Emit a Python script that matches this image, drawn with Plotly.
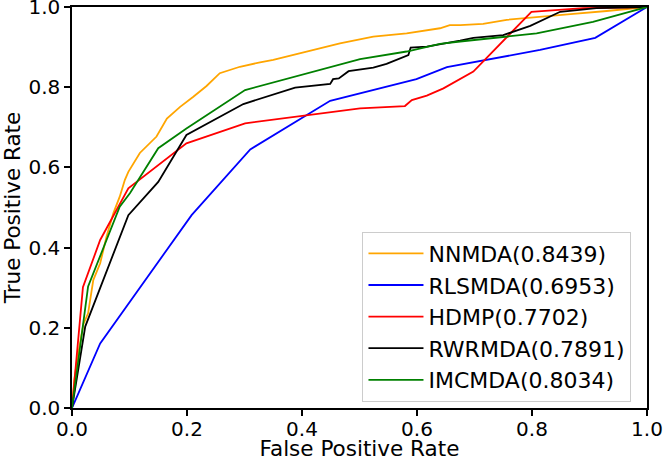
import plotly.graph_objects as go

# ---- data ----
nnmda_fpr = [0, 0.004, 0.01, 0.02, 0.028, 0.037, 0.049, 0.06, 0.072, 0.083, 0.092, 0.098, 0.118,
             0.147, 0.165, 0.188, 0.211, 0.234, 0.257, 0.292, 0.327, 0.350, 0.408, 0.466, 0.524,
             0.582, 0.640, 0.657, 0.675, 0.715, 0.756, 0.814, 0.872, 0.930, 0.965, 1.0]
nnmda_tpr = [0, 0.07, 0.13, 0.21, 0.236, 0.319, 0.361, 0.427, 0.486, 0.527, 0.569, 0.589, 0.636,
             0.677, 0.722, 0.751, 0.776, 0.803, 0.835, 0.851, 0.862, 0.868, 0.889, 0.909, 0.926,
             0.934, 0.947, 0.955, 0.955, 0.958, 0.968, 0.976, 0.983, 0.990, 0.995, 1.0]

rlsmda_fpr = [0, 0.049, 0.208, 0.310, 0.449, 0.599, 0.652, 0.814, 0.910, 1.0]
rlsmda_tpr = [0, 0.161, 0.481, 0.645, 0.766, 0.820, 0.850, 0.893, 0.923, 1.0]

hdmp_fpr = [0, 0.019, 0.049, 0.098, 0.199, 0.301, 0.501, 0.579, 0.591, 0.617, 0.646, 0.675,
            0.698, 0.799, 0.889, 1.0]
hdmp_tpr = [0, 0.301, 0.419, 0.548, 0.660, 0.710, 0.747, 0.753, 0.768, 0.779, 0.797, 0.820,
            0.839, 0.988, 0.997, 1.0]

rwrmda_fpr = [0, 0.023, 0.098, 0.150, 0.199, 0.298, 0.388, 0.449, 0.454, 0.464, 0.481, 0.524,
              0.547, 0.585, 0.589, 0.617, 0.675, 0.698, 0.750, 0.797, 0.849, 0.912, 1.0]
rwrmda_tpr = [0, 0.203, 0.481, 0.564, 0.681, 0.758, 0.799, 0.808, 0.820, 0.822, 0.840, 0.849,
              0.858, 0.880, 0.899, 0.901, 0.916, 0.923, 0.930, 0.953, 0.988, 0.997, 1.0]

imcmda_fpr = [0, 0.028, 0.083, 0.101, 0.150, 0.199, 0.301, 0.327, 0.501, 0.582, 0.640, 0.675,
              0.808, 0.906, 1.0]
imcmda_tpr = [0, 0.303, 0.502, 0.536, 0.648, 0.697, 0.793, 0.803, 0.870, 0.889, 0.908, 0.914,
              0.934, 0.963, 1.0]

series_names = ["NNMDA(0.8439)", "RLSMDA(0.6953)", "HDMP(0.7702)", "RWRMDA(0.7891)", "IMCMDA(0.8034)"]
series_colors = ["#FFA500", "#0000FF", "#FF0000", "#000000", "#008000"]
tick_vals = [0.0, 0.2, 0.4, 0.6, 0.8, 1.0]

series = [
    (nnmda_fpr, nnmda_tpr),
    (rlsmda_fpr, rlsmda_tpr),
    (hdmp_fpr, hdmp_tpr),
    (rwrmda_fpr, rwrmda_tpr),
    (imcmda_fpr, imcmda_tpr),
]

FONT = "DejaVu Sans, Verdana, sans-serif"

fig = go.Figure()
for (fx, ty), name, col in zip(series, series_names, series_colors):
    fig.add_trace(go.Scatter(x=fx, y=ty, mode="lines", name=name,
                             line=dict(color=col, width=1.8)))

axis_common = dict(
    range=[0, 1],
    tickvals=tick_vals,
    tickformat=".1f",
    showgrid=False,
    zeroline=False,
    showline=True,
    linecolor="black",
    linewidth=1.5,
    mirror=True,
    ticks="outside",
    ticklen=6,
    tickwidth=1.5,
    tickcolor="black",
    tickfont=dict(family=FONT, size=20, color="black"),
    automargin=False,
    ticklabeloverflow="allow",
)

fig.update_layout(
    width=663,
    height=461,
    margin=dict(l=72, r=16, t=7, b=53),
    paper_bgcolor="white",
    plot_bgcolor="white",
    font=dict(family=FONT, color="black"),
    xaxis=dict(**axis_common,
               ticklabelstandoff=-4,
               title=dict(text="False Positive Rate", font=dict(family=FONT, size=21.5, color="black"),
                          standoff=14)),
    yaxis=dict(**axis_common,
               title=dict(text="True Positive Rate", font=dict(family=FONT, size=21.5, color="black"),
                          standoff=10)),
    legend=dict(
        x=0.973, y=0.016, xanchor="right", yanchor="bottom",
        bgcolor="rgba(255,255,255,0.8)",
        bordercolor="#cccccc",
        borderwidth=1,
        font=dict(family=FONT, size=22, color="black"),
        itemwidth=55,
    ),
    showlegend=True,
)

fig.write_html("out.html",
               config={"displayModeBar": False},
               post_script="document.body.style.margin='0';document.body.style.padding='0';")
